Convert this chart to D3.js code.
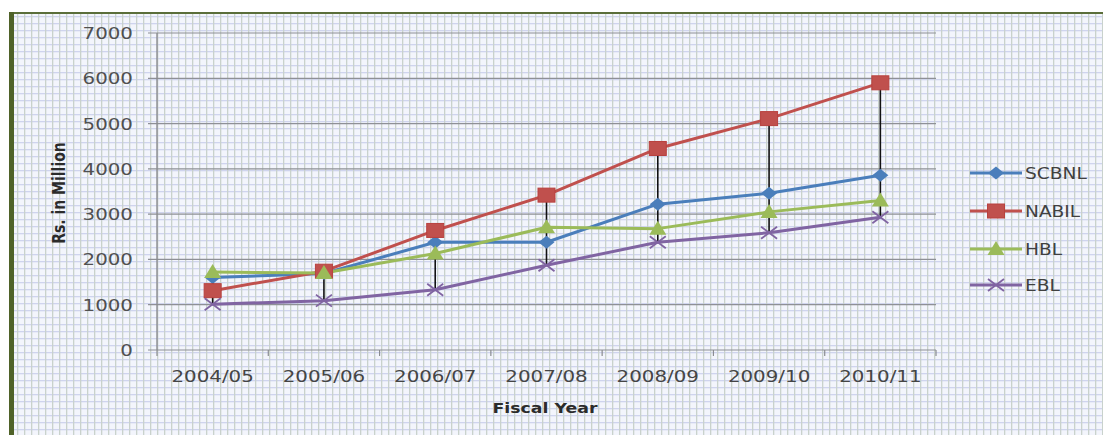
<!DOCTYPE html>
<html>
<head>
<meta charset="utf-8">
<script src="https://cdn.jsdelivr.net/npm/d3@7"></script>
<style>
  html, body { margin: 0; padding: 0; background: #ffffff; }
  svg { display: block; }
  text { font-family: "DejaVu Sans", Verdana, sans-serif; }
</style>
</head>
<body>
<svg id="chart" width="1103" height="435"></svg>
<script>
// Fiscal years on the category axis
const years = ["2004/05", "2005/06", "2006/07", "2007/08", "2008/09", "2009/10", "2010/11"];
// Values in Rs. million per bank
const scbnl = [1600, 1690, 2380, 2380, 3220, 3460, 3860];
const nabil = [1310, 1740, 2640, 3420, 4450, 5110, 5900];
const hbl   = [1720, 1700, 2130, 2710, 2680, 3050, 3300];
const ebl   = [1010, 1090, 1330, 1870, 2380, 2590, 2930];
const seriesNames = ["SCBNL", "NABIL", "HBL", "EBL"];
const yTicks = [0, 1000, 2000, 3000, 4000, 5000, 6000, 7000];

const series = [
  { name: seriesNames[0], values: scbnl, color: "#4a7ebb", marker: "diamond" },
  { name: seriesNames[1], values: nabil, color: "#c0504d", marker: "square" },
  { name: seriesNames[2], values: hbl,   color: "#9bbb59", marker: "triangle" },
  { name: seriesNames[3], values: ebl,   color: "#8064a2", marker: "x" }
];

const W = 1103, H = 435;
const stretch = 1.24;               // text is drawn slightly wide
const plot = { left: 157, right: 936, top: 33, bottom: 350 };

const svg = d3.select("#chart");
const defs = svg.append("defs");

// graph-paper background
const pat = defs.append("pattern")
  .attr("id", "paper").attr("patternUnits", "userSpaceOnUse")
  .attr("width", 7).attr("height", 7).attr("x", 3).attr("y", 2);
pat.append("rect").attr("width", 7).attr("height", 7).attr("fill", "#f3f5fc");
pat.append("rect").attr("x", 0).attr("y", 0).attr("width", 7).attr("height", 1.3).attr("fill", "#cfd4ee");
pat.append("rect").attr("x", 0).attr("y", 0).attr("width", 1.3).attr("height", 7).attr("fill", "#c9d2cc");

svg.append("rect").attr("width", W).attr("height", H).attr("fill", "#ffffff");
svg.append("rect").attr("x", 10).attr("y", 12).attr("width", W - 10).attr("height", H - 12)
  .attr("fill", "url(#paper)");
// frame: thin top edge, heavy left edge
svg.append("line").attr("x1", 10).attr("x2", W).attr("y1", 13).attr("y2", 13)
  .attr("stroke", "#5b6e3a").attr("stroke-width", 2);
svg.append("rect").attr("x", 9).attr("y", 12).attr("width", 5).attr("height", H - 12)
  .attr("fill", "#4f6228");

const x = d3.scaleBand().domain(years).range([plot.left, plot.right]);
const cx = d => x(d) + x.bandwidth() / 2;
const y = d3.scaleLinear().domain([0, 7000]).range([plot.bottom, plot.top]);

// horizontal gridlines with short ticks left of the axis
const g = svg.append("g");
g.selectAll("line.grid").data(yTicks).join("line")
  .attr("class", "grid")
  .attr("x1", plot.left - 9).attr("x2", plot.right)
  .attr("y1", d => y(d)).attr("y2", d => y(d))
  .attr("stroke", "#8e9096").attr("stroke-width", 1.2);

// value axis line
g.append("line").attr("x1", plot.left).attr("x2", plot.left)
  .attr("y1", plot.top).attr("y2", plot.bottom)
  .attr("stroke", "#8a8c90").attr("stroke-width", 1.4);

// category tick marks
const bounds = years.map(d => x(d)).concat([plot.right]);
g.selectAll("line.xt").data(bounds).join("line")
  .attr("x1", d => d).attr("x2", d => d)
  .attr("y1", plot.bottom).attr("y2", plot.bottom + 6)
  .attr("stroke", "#8a8c90").attr("stroke-width", 1.2);

// y tick labels
g.selectAll("text.yl").data(yTicks).join("text")
  .attr("transform", d => `translate(133,${y(d) + 6}) scale(${stretch},1)`)
  .attr("text-anchor", "end").attr("font-size", 16).attr("fill", "#505050")
  .text(d => d);

// x tick labels
g.selectAll("text.xl").data(years).join("text")
  .attr("transform", d => `translate(${cx(d)},382) scale(${stretch},1)`)
  .attr("text-anchor", "middle").attr("font-size", 16).attr("fill", "#454545")
  .text(d => d);

// axis titles
svg.append("text")
  .attr("transform", `translate(545,413) scale(${stretch},1)`)
  .attr("text-anchor", "middle").attr("font-size", 14).attr("font-weight", "bold")
  .attr("fill", "#2b2b2b").text("Fiscal Year");
svg.append("text")
  .attr("transform", `translate(65,193) scale(${stretch},1) rotate(-90)`)
  .attr("text-anchor", "middle").attr("font-size", 14).attr("font-weight", "bold")
  .attr("fill", "#2b2b2b").text("Rs. in Million");

// high-low lines
const hiLo = years.map((yr, i) => {
  const vals = series.map(s => s.values[i]);
  return { yr, hi: d3.max(vals), lo: d3.min(vals) };
});
svg.append("g").selectAll("line").data(hiLo).join("line")
  .attr("x1", d => cx(d.yr)).attr("x2", d => cx(d.yr))
  .attr("y1", d => y(d.hi)).attr("y2", d => y(d.lo))
  .attr("stroke", "#111").attr("stroke-width", 1.6);

function drawMarker(sel, type, color) {
  if (type === "diamond") {
    sel.append("path").attr("d", "M0,-6.5 L8,0 L0,6.5 L-8,0 Z").attr("fill", color);
  } else if (type === "square") {
    sel.append("rect").attr("x", -8.5).attr("y", -7).attr("width", 17).attr("height", 14)
      .attr("fill", color).attr("stroke", "#b8413e").attr("stroke-width", 1);
  } else if (type === "triangle") {
    sel.append("path").attr("d", "M0,-8 L8.5,6 L-8.5,6 Z").attr("fill", color);
  } else {
    sel.append("path").attr("d", "M-8,-6 L8,6 M-8,6 L8,-6")
      .attr("stroke", color).attr("stroke-width", 1.8).attr("fill", "none");
  }
}

const line = d3.line().x((d, i) => cx(years[i])).y(d => y(d));
const sg = svg.append("g");
series.forEach(s => {
  sg.append("path").attr("d", line(s.values))
    .attr("fill", "none").attr("stroke", s.color).attr("stroke-width", 3)
    .attr("stroke-linejoin", "round").attr("stroke-linecap", "round");
});
series.forEach(s => {
  sg.append("g").selectAll("g").data(s.values).join("g")
    .attr("transform", (d, i) => `translate(${cx(years[i])},${y(d)})`)
    .each(function () { drawMarker(d3.select(this), s.marker, s.color); });
});

// legend
const lg = svg.append("g");
const legendY = [173, 211, 249, 285];
series.forEach((s, i) => {
  const row = lg.append("g").attr("transform", `translate(0,${legendY[i]})`);
  row.append("line").attr("x1", 970).attr("x2", 1022).attr("y1", 0).attr("y2", 0)
    .attr("stroke", s.color).attr("stroke-width", 3);
  const m = row.append("g").attr("transform", "translate(996,0)");
  drawMarker(m, s.marker, s.color);
  row.append("text")
    .attr("transform", `translate(1025,6) scale(${stretch},1)`)
    .attr("font-size", 15).attr("fill", "#404040").text(s.name);
});
</script>
</body>
</html>
